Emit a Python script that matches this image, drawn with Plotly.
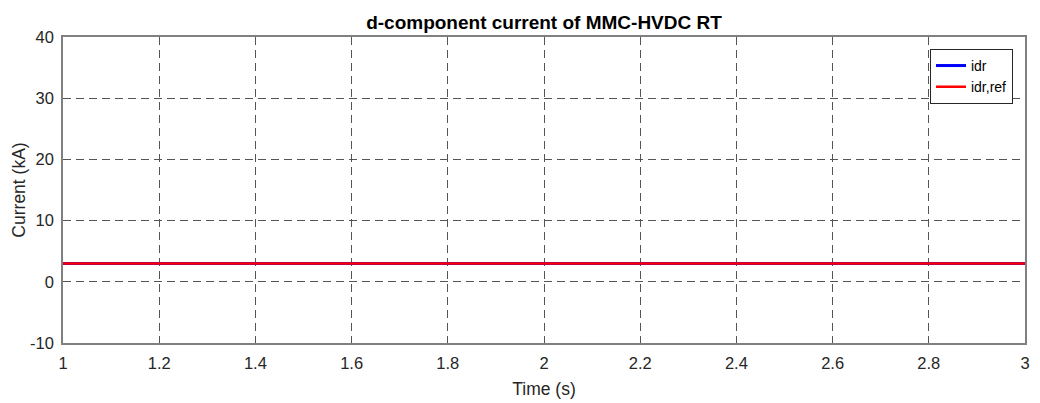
import plotly.graph_objects as go

# Time samples (s) and d-axis current (kA)
time_s = [1.0, 1.25, 1.5, 1.75, 2.0, 2.25, 2.5, 2.75, 3.0]
idr = [3.0, 3.0, 3.0, 3.0, 3.0, 3.0, 3.0, 3.0, 3.0]
idr_ref = [3.0, 3.0, 3.0, 3.0, 3.0, 3.0, 3.0, 3.0, 3.0]

x_ticks = [1, 1.2, 1.4, 1.6, 1.8, 2, 2.2, 2.4, 2.6, 2.8, 3]
x_tick_labels = ["1", "1.2", "1.4", "1.6", "1.8", "2", "2.2", "2.4", "2.6", "2.8", "3"]
y_ticks = [-10, 0, 10, 20, 30, 40]
y_tick_labels = ["-10", "0", "10", "20", "30", "40"]

FONT = "Liberation Sans, Arial, sans-serif"

fig = go.Figure()
fig.add_trace(go.Scatter(x=time_s, y=idr, mode="lines", name="idr",
                         line=dict(color="#0000ff", width=3)))
fig.add_trace(go.Scatter(x=time_s, y=idr_ref, mode="lines", name="idr,ref",
                         line=dict(color="#ff0000", width=2.5)))

axis_common = dict(
    showgrid=True, gridcolor="#555555", griddash="8px,5px", gridwidth=1,
    showline=True, linecolor="#808080", linewidth=1.5, mirror=True,
    zeroline=False, ticks="", ticklabelstandoff=4, automargin=False,
    tickfont=dict(size=16.5, color="#262626", family=FONT),
)

fig.update_layout(
    width=1040, height=403,
    margin=dict(l=63, r=15, t=37, b=60),
    paper_bgcolor="white", plot_bgcolor="white",
    font=dict(family=FONT, color="#262626"),
    title=dict(text="<b>d-component current of MMC-HVDC RT</b>",
               x=0.5, xanchor="center", xref="paper", y=0.945, yanchor="middle",
               font=dict(size=19, color="#000000", family=FONT)),
    xaxis=dict(range=[1, 3], tickvals=x_ticks, ticktext=x_tick_labels,
               title=dict(text="Time (s)", font=dict(size=17.5, family=FONT), standoff=12),
               **axis_common),
    yaxis=dict(range=[-10, 40], tickvals=y_ticks, ticktext=y_tick_labels,
               title=dict(text="Current (kA)", font=dict(size=17.5, family=FONT), standoff=0),
               **axis_common),
    legend=dict(x=0.9875, y=0.961, xanchor="right", yanchor="top",
                bgcolor="white", bordercolor="#262626", borderwidth=1,
                font=dict(size=14, color="#000000", family=FONT),
                itemwidth=30, tracegroupgap=0),
    showlegend=True,
)

fig.write_html("out.html")
